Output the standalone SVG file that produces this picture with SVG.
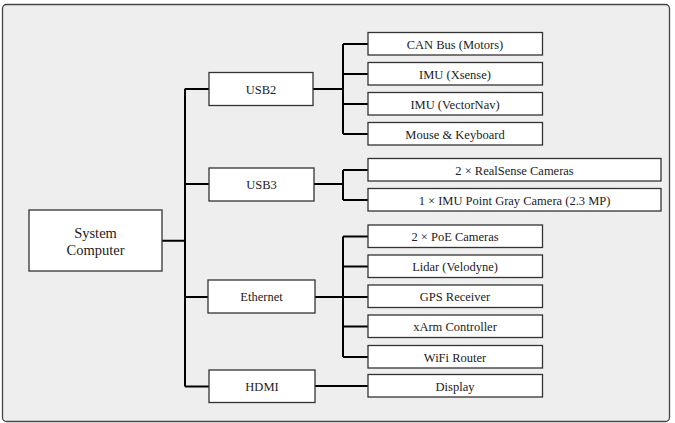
<svg xmlns="http://www.w3.org/2000/svg" width="675" height="423" viewBox="0 0 675 423">
<style>
.frame{fill:#eeeeee;stroke:#444;stroke-width:1.3}
.box{fill:#fff;stroke:#333;stroke-width:1.3}
.lbl{font-family:"Liberation Serif","Times New Roman",serif;font-size:12.5px;fill:#222;text-anchor:middle}
.big{font-size:14.5px}
.wire{fill:none;stroke:#000;stroke-width:2}
</style>
<rect class="frame" x="2.5" y="4.5" width="667" height="417" rx="4"/>
<g id="connectors">
<path class="wire" d="M162 240.7H185M185 88.7V386.5M185 89H209M185 184H209M185 297H208M185 386.5H209"/>
<path class="wire" d="M313 89H343M343 44V134M343 44H368M343 74H368M343 104H368M343 134H368"/>
<path class="wire" d="M314 184H343M343 170V200M343 170H368M343 200H368"/>
<path class="wire" d="M315 297H343M343 236.5V357M343 236.5H368M343 266.5H368M343 297H368M343 326.5H368M343 357H368"/>
<path class="wire" d="M315 386H368"/>
</g>
<g id="computer"><rect class="box" x="29" y="210" width="133" height="61"/><text class="lbl big" x="95.5" y="237.5">System</text><text class="lbl big" x="95.5" y="254.5">Computer</text></g>
<g id="usb2"><rect class="box" x="209" y="72.5" width="104" height="33"/><text class="lbl" x="261" y="93.5">USB2</text></g>
<g id="usb3"><rect class="box" x="209" y="168" width="105" height="33"/><text class="lbl" x="261.5" y="189">USB3</text></g>
<g id="ethernet"><rect class="box" x="208" y="280" width="107" height="33"/><text class="lbl" x="261.5" y="301">Ethernet</text></g>
<g id="hdmi"><rect class="box" x="209" y="370" width="106" height="32.5"/><text class="lbl" x="262" y="390.5">HDMI</text></g>
<g id="can"><rect class="box" x="368" y="32.5" width="174.5" height="22.5"/><text class="lbl" x="455" y="48.5">CAN Bus (Motors)</text></g>
<g id="imu-xsense"><rect class="box" x="368" y="62.5" width="174.5" height="22.5"/><text class="lbl" x="455" y="78.5">IMU (Xsense)</text></g>
<g id="imu-vectornav"><rect class="box" x="368" y="92.5" width="174.5" height="22.5"/><text class="lbl" x="455" y="108.5">IMU (VectorNav)</text></g>
<g id="mouse"><rect class="box" x="368" y="122.5" width="174.5" height="22.5"/><text class="lbl" x="455" y="138.5">Mouse &amp; Keyboard</text></g>
<g id="realsense"><rect class="box" x="368" y="158.5" width="293" height="22.5"/><text class="lbl" x="514.5" y="174.5">2 × RealSense Cameras</text></g>
<g id="pointgray"><rect class="box" x="368" y="188.5" width="293" height="22.5"/><text class="lbl" x="514.5" y="204.5">1 × IMU Point Gray Camera (2.3 MP)</text></g>
<g id="poe"><rect class="box" x="368" y="225" width="174.5" height="22.5"/><text class="lbl" x="455" y="241">2 × PoE Cameras</text></g>
<g id="lidar"><rect class="box" x="368" y="255" width="174.5" height="22.5"/><text class="lbl" x="455" y="271">Lidar (Velodyne)</text></g>
<g id="gps"><rect class="box" x="368" y="285" width="174.5" height="22.5"/><text class="lbl" x="455" y="301">GPS Receiver</text></g>
<g id="xarm"><rect class="box" x="368" y="315" width="174.5" height="22.5"/><text class="lbl" x="455" y="331">xArm Controller</text></g>
<g id="wifi"><rect class="box" x="368" y="345.5" width="174.5" height="22.5"/><text class="lbl" x="455" y="361.5">WiFi Router</text></g>
<g id="display"><rect class="box" x="368" y="374.5" width="174.5" height="22.5"/><text class="lbl" x="455" y="390.5">Display</text></g>
</svg>
